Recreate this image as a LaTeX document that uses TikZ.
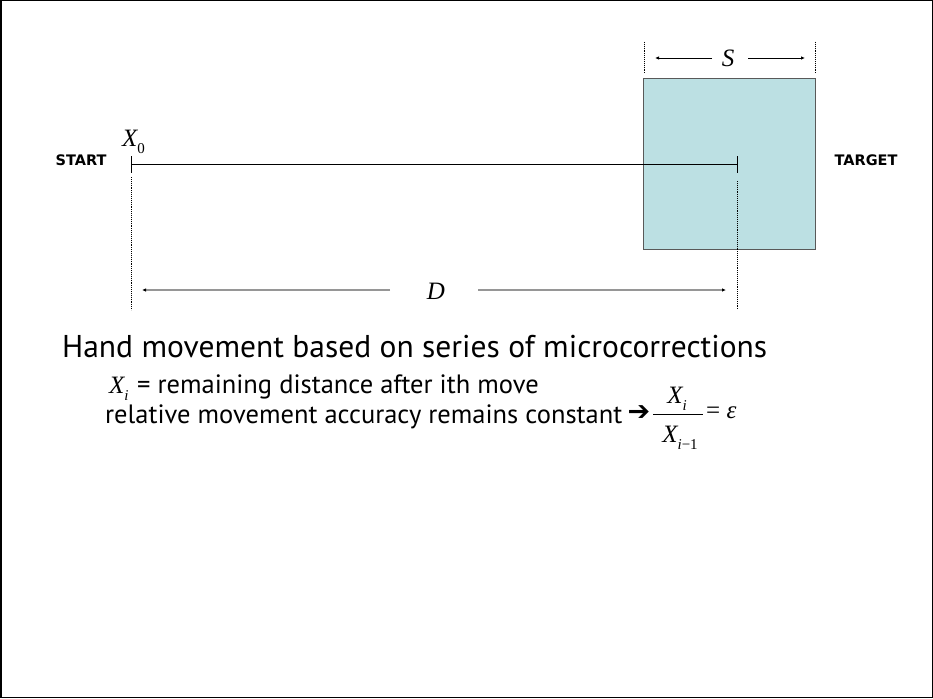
\documentclass[tikz,border=0pt]{standalone}
\usepackage{fontspec}
\setmainfont{PT Sans}
\newfontfamily\tms{Liberation Serif}
\newfontfamily\dvs{DejaVu Sans}
\usetikzlibrary{arrows.meta}
\definecolor{boxfill}{RGB}{188,224,227}
\definecolor{dimgray}{RGB}{150,150,150}
\tikzset{
  guide/.style={densely dotted, line width=0.9pt},
  dimline/.style={draw=dimgray, line width=1.4pt, -{Latex[length=4pt,width=3.5pt,black]}},
  sline/.style={line width=0.9pt, -{Latex[length=4pt,width=3.5pt]}},
  tickline/.style={line width=0.9pt},
  lbl/.style={font=\dvs\bfseries\fontsize{14.5}{16}\selectfont, inner sep=0pt},
  mth/.style={font=\tms\itshape\fontsize{25}{27}\selectfont, inner sep=0pt},
  body/.style={font=\fontsize{26.5}{28}\selectfont, inner sep=0pt, anchor=base west},
}
\newcommand{\subsc}[1]{\raisebox{-0.3em}{\fontsize{15}{16}\selectfont #1}}
\begin{document}
\begin{tikzpicture}[x=1pt,y=-1pt]
\useasboundingbox (0,0) rectangle (933,698);
\draw[line width=1.5pt] (0.75,0.75) rectangle (932.25,697.25);
% target square
\node[draw=black!65, fill=boxfill, line width=1pt, minimum width=172pt, minimum height=170pt, inner sep=0pt] (sq) at (729,164) {};
% start / target labels
\node[lbl] (start) at (81,160) {START};
\node[lbl] (target) at (866,160) {TARGET};
\node[mth, anchor=base west] (x0) at (122,146) {X\subsc{\upshape 0}};
% main line
\coordinate (a) at (131,164);
\coordinate (b) at (737,164);
\draw[tickline] (a) -- (b);
\draw[tickline] (131,156) -- (131,173);
\draw[tickline] (737,156) -- (737,173);
% dotted guides
\coordinate (ga1) at (131,177);
\coordinate (ga2) at (131,310);
\coordinate (gb1) at (737,181);
\coordinate (gb2) at (737,310);
\draw[guide] (ga1) -- (ga2);
\draw[guide] (gb1) -- (gb2);
% D dimension
\node[mth] (D) at (436,291) {D};
\coordinate (dl) at (142,290);
\coordinate (dr) at (726,290);
\draw[dimline] (390,290) -- (dl);
\draw[dimline] (478,290) -- (dr);
% S dimension
\draw[guide] (644,42) -- (644,73);
\draw[guide] (815,42) -- (815,73);
\node[mth] (S) at (728,58) {S};
\coordinate (sl) at (655,58);
\coordinate (sr) at (805,58);
\draw[sline] (712,58) -- (sl);
\draw[sline] (748,58) -- (sr);
% text
\node[anchor=base west, inner sep=0pt, font=\fontsize{31.5}{34}\selectfont] (title) at (62,357) {Hand movement based on series of microcorrections};
\node[mth, anchor=base west] (xi) at (109,393) {X\subsc{i}};
\node[body] (t1) at (137,393) {= remaining distance after ith move};
\node[body] (t2) at (105,423) {relative movement accuracy remains constant};
\node[inner sep=0pt, font=\dvs\bfseries\fontsize{27}{29}\selectfont] (arr) at (639,413) {➔};
\node[mth, anchor=base] (num) at (677,403) {X\subsc{i}};
\node[mth, anchor=base] (den) at (680,442) {X\subsc{i\upshape −1}};
\draw[line width=0.9pt] (653,414) -- (703,414);
\node[inner sep=0pt, anchor=west, font=\tms\fontsize{25}{27}\selectfont] (eq) at (706,413) {= \itshape ε};
\end{tikzpicture}
\end{document}
